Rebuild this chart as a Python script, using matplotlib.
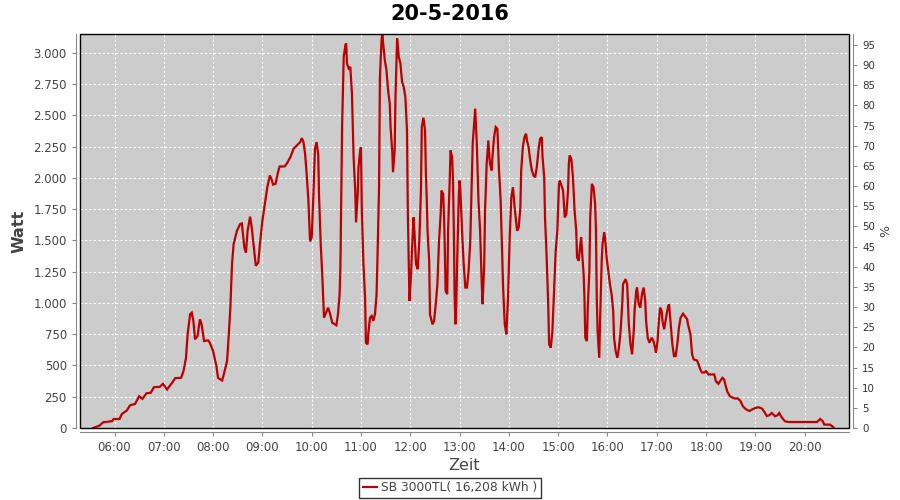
import matplotlib
matplotlib.use("Agg")
import matplotlib.pyplot as plt
from matplotlib.patches import Rectangle
from matplotlib.ticker import FuncFormatter, FixedLocator

# minutes since midnight
times = [334,342,346,357,359,366,369,375,379,385,390,394,399,404,408,415,419,424,430,434,
         441,444,447,449,452,454,456,458,461,464,466,469,474,476,480,484,486,491,493,497,
         499,501,503,505,509,513,515,518,520,522,525,527,530,532,535,537,540,543,546,549,
         551,553,556,559,561,567,570,574,578,582,586,588,590,592,594,596,598,600,602,604,
         606,608,609,611,613,615,620,622,625,630,632,634,635,637,639,641,642,643,645,647,
         649,650,651,653,654,656,657,659,660,661,663,665,666,668,669,671,673,675,677,679,
         680,682,683,685,686,687,689,691,693,695,696,698,699,701,702,704,706,708,710,712,
         714,716,717,718,719,721,722,724,725,727,729,731,733,734,736,738,739,740,741,743,
         744,747,749,751,753,755,757,758,760,761,762,763,765,766,768,769,771,772,773,774,
         775,776,777,779,780,781,783,785,787,789,791,793,795,796,798,799,801,803,805,807,
         808,810,811,813,815,817,819,820,822,824,826,828,830,832,833,835,837,839,841,843,
         845,847,850,852,854,855,857,859,861,862,864,866,868,870,872,874,876,878,880,881,
         883,884,886,888,889,891,893,895,897,899,901,902,906,908,910,912,913,914,916,918,
         920,922,923,925,927,928,929,931,932,933,935,936,938,939,941,943,945,946,947,948,
         950,951,953,954,956,957,959,961,963,965,967,968,970,972,974,976,978,979,982,984,
         985,986,988,990,992,993,995,996,998,1000,1002,1004,1006,1007,1009,1011,1013,1014,1016,1018,
         1019,1021,1022,1024,1026,1027,1029,1030,1032,1034,1035,1037,1039,1041,1043,1045,1047,1049,1052,1054,
         1057,1058,1061,1062,1063,1065,1069,1071,1073,1075,1078,1080,1083,1090,1092,1095,1097,1100,1102,1104,
         1106,1109,1113,1115,1119,1122,1125,1129,1133,1136,1140,1144,1148,1151,1154,1157,1160,1164,1167,1169,
         1172,1176,1180,1215,1219,1222,1224,1231,1235]

watts = [0,20,45,55,72,72,112,140,182,192,254,233,278,281,326,329,353,308,361,399,
         401,455,561,749,909,922,856,709,735,869,829,695,701,682,615,495,401,380,428,535,
         735,962,1310,1471,1577,1631,1636,1443,1403,1577,1690,1604,1417,1297,1323,1471,1658,1791,1925,2019,
         1992,1946,1952,2045,2091,2091,2117,2165,2233,2259,2286,2318,2286,2192,2019,1818,1492,1524,1845,2233,
         2286,2179,1845,1471,1203,882,962,922,842,821,909,1070,1310,2406,2967,3061,3075,2914,2874,2887,
         2674,2433,2165,1898,1644,1872,2085,2219,2246,1738,1310,1043,682,669,762,882,896,856,909,1070,
         1337,1925,2794,3101,3160,3075,2941,2861,2700,2593,2406,2219,2045,2219,2646,3114,2967,2914,2767,2727,
         2646,2379,1738,1391,1016,1230,1417,1684,1577,1310,1270,1497,1898,2406,2481,2379,2032,1845,1577,1337,
         909,829,856,990,1150,1497,1711,1898,1872,1711,1443,1096,1070,1577,1978,2219,2165,1978,1577,1043,
         829,990,1310,1845,1978,1898,1577,1310,1123,1123,1257,1497,2032,2273,2460,2553,2273,1818,1577,1150,
         990,1310,1738,2112,2299,2112,2059,2165,2326,2406,2393,2059,1818,1363,1123,829,749,1043,1524,1845,
         1925,1764,1577,1604,1764,2059,2246,2326,2353,2299,2246,2139,2059,2019,2005,2085,2219,2313,2326,2165,
         2005,1684,1363,962,669,642,776,1096,1417,1577,1952,1978,1898,1684,1711,1898,2112,2179,2152,2005,
         1738,1577,1363,1337,1471,1524,1417,1230,1043,722,695,962,1257,1684,1952,1925,1791,1577,1043,776,
         561,856,1337,1471,1564,1524,1363,1257,1150,1070,936,722,615,561,642,776,990,1150,1190,1150,
         990,829,669,589,776,936,1096,1123,990,962,1070,1123,1016,856,722,682,709,722,695,642,
         602,695,802,962,936,856,789,829,909,976,990,829,669,575,575,669,802,882,914,896,
         869,829,749,669,589,548,540,508,468,444,444,455,428,428,374,353,374,401,388,334,
         289,254,241,236,236,214,172,148,136,148,160,166,156,128,96,102,120,94,102,120,
         86,54,48,48,72,54,27,27,6]

hour_ticks = list(range(6, 21))
watt_ticks = list(range(0, 3001, 250))
pct_ticks = list(range(0, 96, 5))

title = "20-5-2016"
series_label = "SB 3000TL( 16,208 kWh )"

plt.rcParams['font.family'] = ['DejaVu Sans']

fig = plt.figure(figsize=(9, 5), dpi=100)
fig.patch.set_facecolor('white')
ax = fig.add_axes([80/900, 1-428/500, (849-80)/900, (428-34)/500])
ax.set_facecolor('#CCCCCC')

ax.plot(times, watts, color='#BB0000', lw=1.6, zorder=3, label=series_label,
        solid_joinstyle='miter')

ax.set_xlim(318, 1254)
ax.set_ylim(0, 3150)

grid_kw = dict(color='white', lw=0.8, ls=(0, (2, 2)))
ax.xaxis.set_major_locator(FixedLocator([h*60 for h in hour_ticks]))
ax.xaxis.set_major_formatter(FuncFormatter(lambda v, p: f"{int(v)//60:02d}:{int(v)%60:02d}"))
ax.yaxis.set_major_locator(FixedLocator(watt_ticks))
ax.yaxis.set_major_formatter(FuncFormatter(lambda v, p: f"{int(v):,}".replace(",", ".")))
ax.grid(True, **grid_kw)
ax.set_axisbelow(True)

gray = '#888888'
txt = '#444444'
for s in ['top', 'right']:
    ax.spines[s].set_visible(False)
for s in ['left', 'bottom']:
    ax.spines[s].set_position(('outward', 3))
    ax.spines[s].set_color(gray)
ax.tick_params(axis='both', colors=gray, labelcolor=txt, labelsize=8.5, length=3, width=0.8)

ax2 = ax.twinx()
ax2.set_ylim(0, 97.7)
ax2.yaxis.set_major_locator(FixedLocator(pct_ticks))
for s in ['top', 'left', 'bottom']:
    ax2.spines[s].set_visible(False)
ax2.spines['right'].set_position(('outward', 3))
ax2.spines['right'].set_color(gray)
ax2.tick_params(axis='y', colors=gray, labelcolor='#333333', labelsize=7.4, length=3, width=0.8)
ax2.set_ylabel('%', color=txt, fontsize=9, rotation=90, labelpad=3)

ax.add_patch(Rectangle((0, 0), 1, 1, transform=ax.transAxes, fill=False,
                       edgecolor='black', lw=1.0, zorder=5, clip_on=False))

ax.set_ylabel('Watt', color=txt, fontsize=11.5, fontweight='bold', labelpad=5)
ax.set_xlabel('Zeit', color=txt, fontsize=11.5, labelpad=3)

fig.text(0.5, 1-14/500, title, ha='center', va='center', fontsize=15, fontweight='bold')

leg = fig.legend(loc='center', bbox_to_anchor=(0.5, 1-488/500), frameon=True,
                 fancybox=False, edgecolor='black', fontsize=8.8, handlelength=1.2,
                 handletextpad=0.3, borderpad=0.3, labelcolor=txt)
leg.get_frame().set_linewidth(1.0)

fig.savefig('out.png', dpi=100)
